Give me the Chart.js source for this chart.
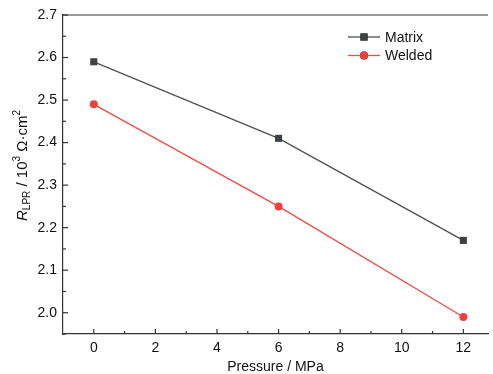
<!DOCTYPE html>
<html>
<head>
<meta charset="utf-8">
<script src="https://cdn.jsdelivr.net/npm/chart.js@4.4.0/dist/chart.umd.min.js"></script>
<style>
  html, body { margin: 0; padding: 0; background: #fff; }
  #wrap { width: 493px; height: 374px; }
</style>
</head>
<body>
<div id="wrap"><canvas id="myChart" width="493" height="374"></canvas></div>
<script>
const pressure = [0, 6, 12];
const matrixData = [2.59, 2.41, 2.17];
const weldedData = [2.49, 2.25, 1.99];
const xTicks = [0, 2, 4, 6, 8, 10, 12];
const yTicks = [2.0, 2.1, 2.2, 2.3, 2.4, 2.5, 2.6, 2.7];
const seriesNames = ["Matrix", "Welded"];

const axisColor = "#333333";
const fontFam = "'Liberation Sans', Arial, sans-serif";

// ticks pointing inward + top border + legend + y title
const decorations = {
  id: "decorations",
  afterDatasetsDraw(chart) {
    const ctx = chart.ctx;
    const area = chart.chartArea;
    const xs = chart.scales.x;
    const ys = chart.scales.y;
    ctx.save();
    ctx.strokeStyle = axisColor;
    ctx.lineWidth = 1.2;

    // top border
    ctx.beginPath();
    ctx.moveTo(area.left, area.top);
    ctx.lineTo(area.right, area.top);
    ctx.stroke();

    // x ticks
    for (let i = 0; i < xTicks.length; i++) {
      let px = xs.getPixelForValue(xTicks[i]);
      ctx.beginPath();
      ctx.moveTo(px, area.bottom);
      ctx.lineTo(px, area.bottom - 5);
      ctx.stroke();
      let mid = xTicks[i] + 1;
      if (mid < xs.max) {
        px = xs.getPixelForValue(mid);
        ctx.beginPath();
        ctx.moveTo(px, area.bottom);
        ctx.lineTo(px, area.bottom - 3);
        ctx.stroke();
      }
    }
    let m = xTicks[0] - 1;
    if (m > xs.min) {
      let px = xs.getPixelForValue(m);
      ctx.beginPath();
      ctx.moveTo(px, area.bottom);
      ctx.lineTo(px, area.bottom - 3);
      ctx.stroke();
    }

    // y ticks
    for (let i = 0; i < yTicks.length; i++) {
      let py = ys.getPixelForValue(yTicks[i]);
      ctx.beginPath();
      ctx.moveTo(area.left, py);
      ctx.lineTo(area.left + 5, py);
      ctx.stroke();
      let mid = yTicks[i] - 0.05;
      if (mid > ys.min - 1e-9) {
        py = ys.getPixelForValue(mid);
        ctx.beginPath();
        ctx.moveTo(area.left, py);
        ctx.lineTo(area.left + 3, py);
        ctx.stroke();
      }
    }

    // legend
    const lx = 348, ly = 37, gap = 18.5;
    chart.data.datasets.forEach((ds, i) => {
      const y = ly + i * gap;
      ctx.strokeStyle = ds.borderColor;
      ctx.lineWidth = 1.3;
      ctx.beginPath();
      ctx.moveTo(lx, y);
      ctx.lineTo(lx + 32, y);
      ctx.stroke();
      Chart.helpers.drawPoint(ctx, {
        pointStyle: ds.pointStyle,
        radius: ds.pointRadius,
        borderWidth: 0
      }, lx + 16, y);
      ctx.fillStyle = ds.pointBackgroundColor;
      ctx.fill();
      ctx.fillStyle = "#111";
      ctx.font = "14px " + fontFam;
      ctx.textAlign = "left";
      ctx.textBaseline = "middle";
      ctx.fillText(ds.label, lx + 37, y + 1);
    });

    // y title: R_LPR / 10^3 Ω·cm^2
    const parts = [
      { t: "R", f: "italic 15px " + fontFam, dy: 0 },
      { t: "LPR", f: "10px " + fontFam, dy: 4 },
      { t: " / 10", f: "15px " + fontFam, dy: 0 },
      { t: "3", f: "10px " + fontFam, dy: -6 },
      { t: " \u03A9\u00B7cm", f: "15px " + fontFam, dy: 0 },
      { t: "2", f: "10px " + fontFam, dy: -6 }
    ];
    let total = 0;
    parts.forEach(p => { ctx.font = p.f; p.w = ctx.measureText(p.t).width; total += p.w; });
    ctx.translate(23, (area.top + area.bottom) / 2 - 9);
    ctx.rotate(-Math.PI / 2);
    ctx.fillStyle = "#111";
    ctx.textAlign = "left";
    ctx.textBaseline = "middle";
    let cx = -total / 2;
    parts.forEach(p => {
      ctx.font = p.f;
      ctx.fillText(p.t, cx, p.dy);
      cx += p.w;
    });
    ctx.restore();
  }
};

const config = {
  type: "line",
  data: {
    datasets: [
      {
        label: seriesNames[0],
        data: pressure.map((p, i) => ({ x: p, y: matrixData[i] })),
        borderColor: "#505050",
        backgroundColor: "#3e4146",
        pointBackgroundColor: "#3e4146",
        pointBorderWidth: 0,
        pointStyle: "rect",
        pointRadius: 5,
        borderWidth: 1.3,
        tension: 0
      },
      {
        label: seriesNames[1],
        data: pressure.map((p, i) => ({ x: p, y: weldedData[i] })),
        borderColor: "#f04a45",
        backgroundColor: "#f0403c",
        pointBackgroundColor: "#f0403c",
        pointBorderWidth: 0,
        pointStyle: "circle",
        pointRadius: 4,
        borderWidth: 1.3,
        tension: 0
      }
    ]
  },
  options: {
    responsive: false,
    animation: false,
    layout: { padding: { top: 15, right: 4, left: 0, bottom: 0 } },
    plugins: { legend: { display: false }, tooltip: { enabled: false } },
    scales: {
      x: {
        type: "linear",
        min: -1,
        max: 12.8,
        afterBuildTicks: (s) => { s.ticks = xTicks.map(v => ({ value: v })); },
        afterFit: (s) => { s.height = 40; },
        grid: { display: false, drawTicks: false, tickLength: 0 },
        border: { display: true, color: axisColor, width: 1.2 },
        ticks: {
          color: "#111",
          padding: 6,
          maxRotation: 0,
          font: { family: fontFam, size: 14 }
        },
        title: {
          display: true,
          text: "Pressure / MPa",
          color: "#111",
          font: { family: fontFam, size: 14 },
          padding: { top: 0, bottom: -2 }
        }
      },
      y: {
        min: 1.95,
        max: 2.7,
        afterBuildTicks: (s) => { s.ticks = yTicks.map(v => ({ value: v })); },
        afterFit: (s) => { s.width = 63; },
        grid: { display: false, drawTicks: false, tickLength: 0 },
        border: { display: true, color: axisColor, width: 1.2 },
        ticks: {
          color: "#111",
          padding: 6,
          font: { family: fontFam, size: 14 },
          callback: (v) => Number(v).toFixed(1)
        }
      }
    }
  },
  plugins: [decorations]
};

new Chart(document.getElementById("myChart"), config);
</script>
</body>
</html>
